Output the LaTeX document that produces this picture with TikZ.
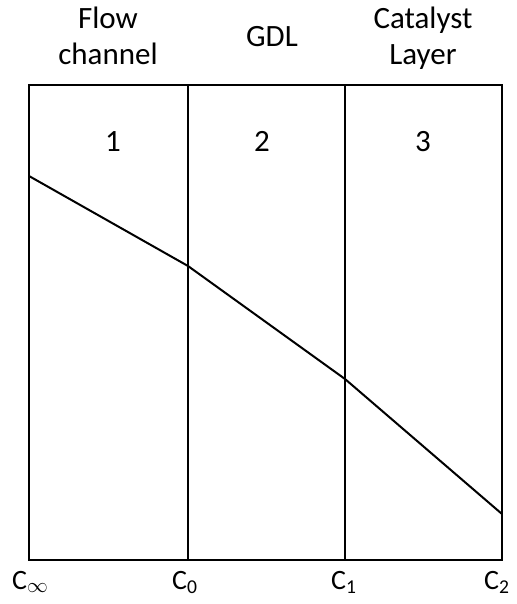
\documentclass[tikz,border=0pt]{standalone}
\usepackage{fontspec}
\setmainfont{Carlito}
\begin{document}
\begin{tikzpicture}[x=1pt,y=-1pt,
  frame/.style={line width=2pt},
  lbl/.style={font=\fontsize{31}{36}\selectfont, inner sep=0pt, align=center},
  clbl/.style={font=\fontsize{28}{33}\selectfont, inner sep=0pt, anchor=base west},
  profile/.style={line width=2pt, line join=miter}]
\useasboundingbox (0,0) rectangle (516,604);
% box corners
\coordinate (tl) at (29,85);
\coordinate (br) at (502,560);
\coordinate (t1) at (188,85);
\coordinate (b1) at (188,560);
\coordinate (t2) at (345,85);
\coordinate (b2) at (345,560);
\draw[frame] (tl) rectangle (br);
\draw[frame] (t1) -- (b1);
\draw[frame] (t2) -- (b2);
% profile points
\coordinate (p0) at (29,176);
\coordinate (p1) at (188,266);
\coordinate (p2) at (345,379);
\coordinate (p3) at (502,514);
\draw[profile] (p0) -- (p1) -- (p2) -- (p3);
% top labels
\node[lbl, anchor=base] (flow) at (108,65) {Flow\\channel};
\node[lbl, anchor=base] (gdl) at (272,47) {GDL};
\node[lbl, anchor=base] (cat) at (423,65) {Catalyst\\Layer};
% region numbers
\node[lbl, anchor=base] (n1) at (113,152) {1};
\node[lbl, anchor=base] (n2) at (262,152) {2};
\node[lbl, anchor=base] (n3) at (423,152) {3};
% bottom labels
\node[clbl] (cinf) at (12,589) {C\textsubscript{$\infty$}};
\node[clbl] (c0) at (172,589) {C\textsubscript{0}};
\node[clbl] (c1) at (331,589) {C\textsubscript{1}};
\node[clbl] (c2) at (484,589) {C\textsubscript{2}};
\end{tikzpicture}
\end{document}
